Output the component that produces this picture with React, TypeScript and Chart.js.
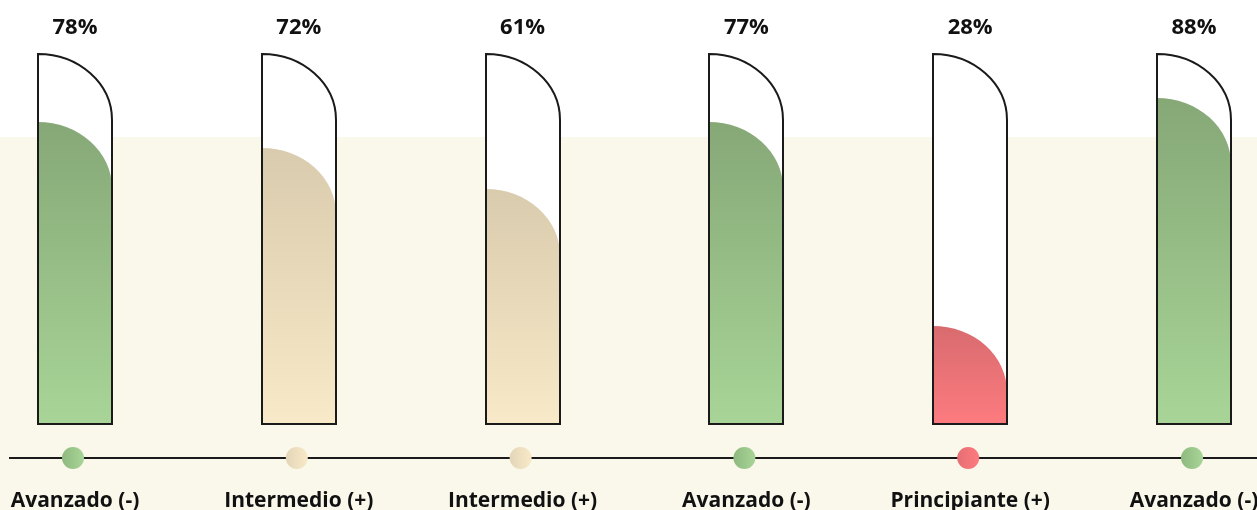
import React, { useEffect, useRef } from "react";
import { Chart, registerables } from "chart.js";

Chart.register(...registerables);

const categories = [
  "Avanzado (-)",
  "Intermedio (+)",
  "Intermedio (+)",
  "Avanzado (-)",
  "Principiante (+)",
  "Avanzado (-)",
];
const percentLabels = ["78%", "72%", "61%", "77%", "28%", "88%"];
// fill level of each tube, in % of the tube height
const fillLevels = [81.6, 74.6, 63.5, 81.6, 26.5, 88.1];
const levelKinds = ["adv", "int", "int", "adv", "beg", "adv"];
const tubeCapacity = 100;

const palette: Record<string, [string, string, string]> = {
  adv: ["#86a877", "#a8d597", "#8fb97f"],
  int: ["#d9cbad", "#f8e9c8", "#e3d6b8"],
  beg: ["#d86b6f", "#fd7b7f", "#e56f73"],
};

const W = 1257;
const H = 510;

function tubePath(ctx: CanvasRenderingContext2D, x0: number, x1: number, yT: number, yB: number, ry: number) {
  const w = x1 - x0;
  ctx.beginPath();
  ctx.moveTo(x0, yB);
  ctx.lineTo(x0, yT);
  ctx.ellipse(x0, yT + ry, w, ry, 0, -Math.PI / 2, 0);
  ctx.lineTo(x1, yB);
  ctx.closePath();
}

const tubePlugin = {
  id: "tubes",
  beforeDraw(chart: any) {
    const ctx = chart.ctx as CanvasRenderingContext2D;
    ctx.save();
    ctx.fillStyle = "#ffffff";
    ctx.fillRect(0, 0, chart.width, chart.height);
    ctx.fillStyle = "#faf7eb";
    ctx.fillRect(0, 137, chart.width, chart.height - 137);
    ctx.restore();
  },
  afterDatasetsDraw(chart: any) {
    const ctx = chart.ctx as CanvasRenderingContext2D;
    const yScale = chart.scales.y;
    const meta = chart.getDatasetMeta(0);
    const yTop = yScale.getPixelForValue(tubeCapacity);
    const ry = 66;
    ctx.save();
    // axis line
    const lineY = 458;
    ctx.strokeStyle = "#1a1a1a";
    ctx.lineWidth = 2;
    ctx.beginPath();
    ctx.moveTo(9, lineY);
    ctx.lineTo(chart.width, lineY);
    ctx.stroke();

    meta.data.forEach((bar: any, i: number) => {
      const half = bar.width / 2;
      const x0 = Math.round(bar.x - half);
      const x1 = x0 + bar.width;
      const yB = bar.base;
      const yF = bar.y;
      const [c0, c1, cDot] = palette[levelKinds[i]];

      // empty tube
      tubePath(ctx, x0, x1, yTop, yB, ry);
      ctx.fillStyle = "#ffffff";
      ctx.fill();

      // fill
      const g = ctx.createLinearGradient(0, yF, 0, yB);
      g.addColorStop(0, c0);
      g.addColorStop(1, c1);
      tubePath(ctx, x0, x1, yF, yB, ry);
      ctx.fillStyle = g;
      ctx.fill();

      // outline
      tubePath(ctx, x0, x1, yTop, yB, ry);
      ctx.strokeStyle = "#1a1a1a";
      ctx.lineWidth = 2;
      ctx.stroke();

      // percent label
      ctx.fillStyle = "#111111";
      ctx.font = "bold 22px 'Open Sans'";
      ctx.textAlign = "center";
      ctx.textBaseline = "alphabetic";
      ctx.fillText(percentLabels[i], bar.x, 34);

      // dot
      const dg = ctx.createLinearGradient(bar.x - 13, 0, bar.x + 9, 0);
      dg.addColorStop(0, cDot);
      dg.addColorStop(1, c1);
      ctx.beginPath();
      ctx.arc(bar.x - 2, lineY, 11, 0, Math.PI * 2);
      ctx.fillStyle = dg;
      ctx.fill();

      // category label
      ctx.fillStyle = "#111111";
      ctx.font = "bold 21px 'Open Sans'";
      ctx.fillText(categories[i], bar.x, 507);
    });
    ctx.restore();
  },
};

export default function App() {
  const ref = useRef<HTMLCanvasElement | null>(null);
  useEffect(() => {
    document.body.style.margin = "0";
    if (!ref.current) return;
    const chart = new Chart(ref.current, {
      type: "bar",
      data: {
        labels: categories,
        datasets: [
          {
            data: fillLevels,
            backgroundColor: "rgba(0,0,0,0)",
            borderWidth: 0,
            barThickness: 74,
          },
        ],
      },
      options: {
        animation: false,
        responsive: false,
        layout: { padding: { left: 75, right: 63, top: 54, bottom: 86 } },
        plugins: { legend: { display: false }, tooltip: { enabled: false } },
        scales: {
          x: { type: "category", offset: false, display: false },
          y: { min: 0, max: 100, display: false },
        },
      },
      plugins: [tubePlugin],
    });
    return () => chart.destroy();
  }, []);
  return (
    <div style={{ width: W, height: H }}>
      <canvas ref={ref} width={W} height={H} style={{ display: "block" }} />
    </div>
  );
}
